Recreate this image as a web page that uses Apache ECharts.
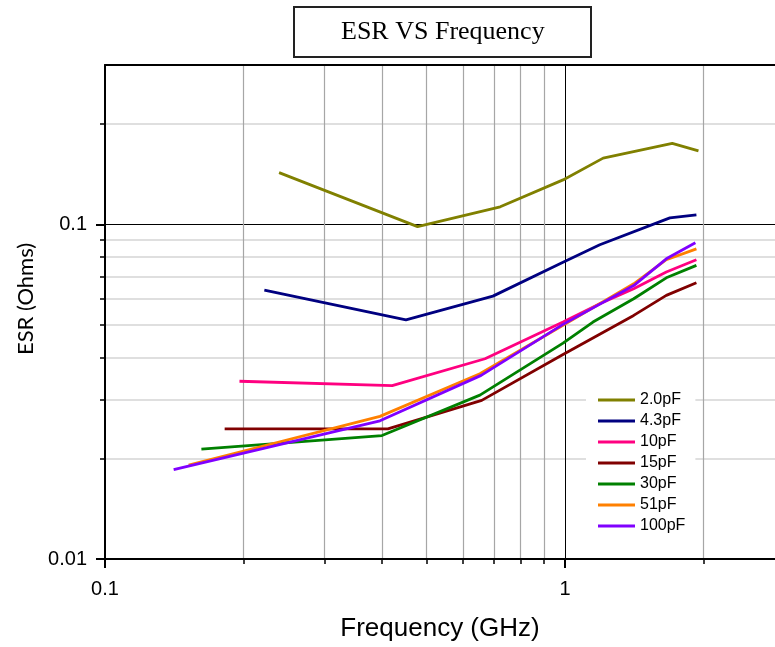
<!DOCTYPE html>
<html><head><meta charset="utf-8">
<script src="https://cdn.jsdelivr.net/npm/echarts@6/dist/echarts.min.js"></script>
<style>html,body{margin:0;padding:0;background:#fff}#c{width:775px;height:647px}</style>
</head><body><div id="c"></div>
<script>
// ---- data ----
var seriesNames = ['2.0pF', '4.3pF', '10pF', '15pF', '30pF', '51pF', '100pF'];
var seriesColors = ['#808000', '#000080', '#ff0080', '#800000', '#008000', '#ff8000', '#8000ff'];

var freq2p0 = [0.239, 0.478, 0.723, 0.99, 1.21, 1.71, 1.95];
var esr2p0  = [0.143, 0.0986, 0.113, 0.136, 0.158, 0.175, 0.166];

var freq4p3 = [0.222, 0.451, 0.697, 0.99, 1.19, 1.69, 1.93];
var esr4p3  = [0.0637, 0.0519, 0.0611, 0.0772, 0.087, 0.1047, 0.1069];

var freq10 = [0.196, 0.421, 0.67, 0.99, 1.19, 1.41, 1.66, 1.93];
var esr10  = [0.034, 0.033, 0.0397, 0.0511, 0.058, 0.0643, 0.0721, 0.0785];

var freq15 = [0.182, 0.412, 0.659, 0.99, 1.41, 1.66, 1.93];
var esr15  = [0.0245, 0.0245, 0.0298, 0.0409, 0.0535, 0.0614, 0.067];

var freq30 = [0.162, 0.400, 0.653, 0.99, 1.15, 1.41, 1.66, 1.93];
var esr30  = [0.0213, 0.0234, 0.0309, 0.0442, 0.0511, 0.060, 0.0693, 0.0755];

var freq51 = [0.152, 0.396, 0.653, 0.99, 1.41, 1.66, 1.93];
var esr51  = [0.0191, 0.0267, 0.0358, 0.050, 0.0665, 0.0785, 0.0846];

var freq100 = [0.141, 0.396, 0.657, 0.99, 1.41, 1.66, 1.92];
var esr100  = [0.0185, 0.0259, 0.0354, 0.0503, 0.0657, 0.079, 0.0882];

var xMajorTicks = [0.1, 1];
var xMinorTicks = [0.2, 0.3, 0.4, 0.5, 0.6, 0.7, 0.8, 0.9, 2];
var yMajorTicks = [0.01, 0.1];
var yMinorTicks = [0.02, 0.03, 0.04, 0.05, 0.06, 0.07, 0.08, 0.09, 0.2];

var xRange = [0.1, 2.86];
var yRange = [0.01, 0.3];

var freqs = [freq2p0, freq4p3, freq10, freq15, freq30, freq51, freq100];
var esrs = [esr2p0, esr4p3, esr10, esr15, esr30, esr51, esr100];

function pairs(xs, ys) { return xs.map(function (x, i) { return [x, ys[i]]; }); }

var series = seriesNames.map(function (n, i) {
  return {
    name: n, type: 'line', xAxisIndex: 0, yAxisIndex: 0,
    data: pairs(freqs[i], esrs[i]),
    symbol: 'none', smooth: false,
    lineStyle: { color: seriesColors[i], width: 2.8 },
    itemStyle: { color: seriesColors[i] },
    z: 3
  };
});

var sans = 'Liberation Sans, Arial, sans-serif';

var option = {
  animation: false,
  backgroundColor: '#fff',
  title: {
    text: 'ESR VS Frequency',
    left: 294, top: 7,
    padding: [12, 47],
    borderColor: '#222', borderWidth: 2,
    textStyle: { fontFamily: 'Liberation Serif, Times New Roman, serif', fontSize: 26, fontWeight: 'normal', color: '#000' }
  },
  grid: {
    left: 105, top: 65, right: 0, bottom: 88, show: false
  },
  legend: {
    orient: 'vertical', left: 586, top: 388,
    padding: [4, 10, 8, 12],
    backgroundColor: '#fff',
    icon: 'rect',
    itemWidth: 37, itemHeight: 3, itemGap: 5,
    textStyle: { fontFamily: sans, fontSize: 16, color: '#000' },
    data: seriesNames,
    z: 10
  },
  xAxis: [
    {
      type: 'log', logBase: 10, min: xRange[0], max: xRange[1], position: 'bottom',
      name: 'Frequency (GHz)', nameLocation: 'middle', nameGap: 57,
      nameTextStyle: { fontFamily: sans, fontSize: 26, color: '#000' },
      axisLine: { show: true, lineStyle: { color: '#000', width: 2 } },
      axisTick: { show: true, inside: false, length: 9, customValues: xMajorTicks, lineStyle: { color: '#000', width: 2 } },
      axisLabel: { show: true, customValues: xMajorTicks, margin: 20, fontFamily: sans, fontSize: 20, color: '#000',
        formatter: function (v) { return String(v); } },
      splitLine: { show: true, lineStyle: { color: '#000', width: 1 } },
      minorTick: { show: false }, minorSplitLine: { show: false }
    },
    {
      type: 'log', logBase: 10, min: xRange[0], max: xRange[1], position: 'bottom', offset: 0,
      axisLine: { show: false },
      axisTick: { show: true, inside: false, length: 5, customValues: xMinorTicks, lineStyle: { color: '#000', width: 1.5 } },
      axisLabel: { show: false },
      splitLine: { show: true, lineStyle: { color: '#a6a6a6', width: 1.2 } }
    },
    {
      type: 'log', logBase: 10, min: xRange[0], max: xRange[1], position: 'top', offset: 0,
      axisLine: { show: true, lineStyle: { color: '#000', width: 2 } },
      axisTick: { show: false },
      axisLabel: { show: false },
      splitLine: { show: false }
    }
  ],
  yAxis: [
    {
      type: 'log', logBase: 10, min: yRange[0], max: yRange[1], position: 'left',
      name: 'ESR (Ohms)', nameLocation: 'middle', nameGap: 62,
      nameTextStyle: { fontFamily: 'Lato, Open Sans, sans-serif', fontSize: 22, color: '#000', padding: [0, 0, 0, 26] },
      axisLine: { show: true, lineStyle: { color: '#000', width: 2 } },
      axisTick: { show: true, inside: false, length: 9, customValues: yMajorTicks, lineStyle: { color: '#000', width: 2 } },
      axisLabel: { show: true, customValues: yMajorTicks, margin: 18, fontFamily: sans, fontSize: 20, color: '#000',
        formatter: function (v) { return String(v); } },
      splitLine: { show: true, lineStyle: { color: '#000', width: 1 } },
      minorTick: { show: false }, minorSplitLine: { show: false }
    },
    {
      type: 'log', logBase: 10, min: yRange[0], max: yRange[1], position: 'left', offset: 0,
      axisLine: { show: false },
      axisTick: { show: true, inside: false, length: 5, customValues: yMinorTicks, lineStyle: { color: '#000', width: 1.5 } },
      axisLabel: { show: false },
      splitLine: { show: true, lineStyle: { color: '#d4d4d4', width: 1.5 } }
    }
  ],
  series: series
};

var chart = echarts.init(document.getElementById('c'), null, { renderer: 'canvas' });
chart.setOption(option);
</script></body></html>
